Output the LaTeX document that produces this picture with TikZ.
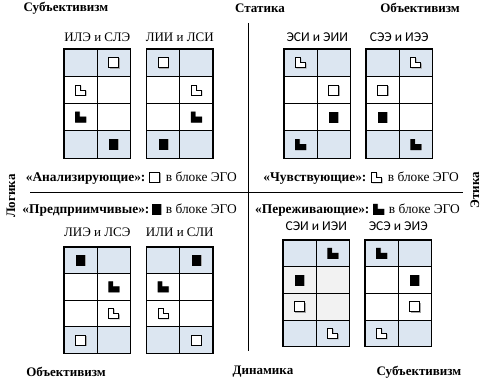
\documentclass[tikz,border=0pt]{standalone}
\usepackage{fontspec}
\setmainfont{Liberation Serif}
\newfontfamily\sansf{Carlito}
\usetikzlibrary{calc}
\definecolor{cellblue}{HTML}{DCE6F1}
\definecolor{cellgray}{HTML}{F2F2F2}
\definecolor{symshade}{HTML}{A6A6A6}
\tikzset{
  gridline/.style={draw=black, line width=1.1pt},
  divider/.style={draw=black, line width=0.9pt},
  corner/.style={font=\bfseries\fontsize{13}{15}\selectfont, inner sep=0pt},
  gtitle/.style={font=\fontsize{13}{15}\selectfont, inner sep=0pt},
  stitle/.style={font=\sansf\fontsize{13.5}{15}\selectfont, inner sep=0pt},
  legtext/.style={font=\fontsize{13.4}{15}\selectfont, inner sep=0pt, anchor=base east},
  legbold/.style={font=\bfseries\fontsize{13.4}{15}\selectfont, inner sep=0pt, anchor=base east},
  pics/wsq/.style={code={
     \fill[symshade] (-4.2,-4.2) rectangle (6,6);
     \draw[black, line width=0.8pt, fill=white] (-5,-5) rectangle (5,5);}},
  pics/bsq/.style={code={
     \fill[symshade] (-4.5,-5.5) rectangle (5.5,5.5);
     \fill[black] (-4.5,-5.5) rectangle (4.5,5.5);}},
  pics/wl/.style={code={
     \fill[symshade] (-4.2,-4.2) -- (0.8,-4.2) -- (0.8,0.8) -- (6,0.8) -- (6,6) -- (-4.2,6) -- cycle;
     \draw[black, line width=0.8pt, fill=white] (-5,-5) -- (0,-5) -- (0,0) -- (5,0) -- (5,5) -- (-5,5) -- cycle;}},
  pics/bl/.style={code={
     \fill[symshade] (-5,-5.5) -- (-0.5,-5.5) -- (-0.5,-0.5) -- (6,-0.5) -- (6,5.5) -- (-5,5.5) -- cycle;
     \fill[black] (-5.5,-5.5) -- (-1,-5.5) -- (-1,-0.5) -- (5.5,-0.5) -- (5.5,5.5) -- (-5.5,5.5) -- cycle;}},
}
% grid: x, ytop, row height, middle colour
\newcommand\mkgrid[4]{%
  \fill[cellblue] (#1,#2) rectangle ++(66.5,#3);
  \fill[#4] (#1,#2+#3) rectangle ++(66.5,2*#3);
  \fill[cellblue] (#1,#2+3*#3) rectangle ++(66.5,#3);
  \draw[gridline] (#1,#2) rectangle ++(66.5,4*#3);
  \draw[gridline] (#1+33.25,#2) -- ++(0,4*#3);
  \foreach \k in {1,2,3} {\draw[gridline] (#1,#2+\k*#3) -- ++(66.5,0);}
}
% cell symbol: x, ytop, row height, column, row, pic
\newcommand\gcell[6]{\pic at (#1+33.25*#4-16.625, #2+#3*#5-#3/2) {#6};}
\begin{document}
\begin{tikzpicture}[x=1pt,y=-1pt]
\useasboundingbox (0,0) rectangle (485,379);
% dividers
\coordinate (vtop) at (248,23);
\coordinate (vbot) at (248,351);
\coordinate (hl) at (30,192);
\coordinate (hr) at (463,192);
\draw[divider] (vtop) -- (vbot);
\draw[divider] (hl) -- (hr);
% corner labels
\node[corner] (c1) at (66,8) {Субъективизм};
\node[corner] (c2) at (260,8) {Статика};
\node[corner] (c3) at (420,8) {Объективизм};
\node[corner] (c4) at (66,372) {Объективизм};
\node[corner] (c5) at (263,372) {Динамика};
\node[corner] (c6) at (419,372) {Субъективизм};
\node[corner, rotate=90] (c7) at (11,196) {Логика};
\node[corner, rotate=90] (c8) at (475,190) {Этика};
% top-left grids
\node[gtitle] (t1) at (97.25,37) {ИЛЭ и СЛЭ};
\mkgrid{64}{49}{27.3}{white}
\gcell{64}{49}{27.3}{2}{1}{wsq}
\gcell{64}{49}{27.3}{1}{2}{wl}
\gcell{64}{49}{27.3}{1}{3}{bl}
\gcell{64}{49}{27.3}{2}{4}{bsq}
\node[gtitle] (t2) at (179.75,37) {ЛИИ и ЛСИ};
\mkgrid{146.5}{49}{27.3}{white}
\gcell{146.5}{49}{27.3}{1}{1}{wsq}
\gcell{146.5}{49}{27.3}{2}{2}{wl}
\gcell{146.5}{49}{27.3}{2}{3}{bl}
\gcell{146.5}{49}{27.3}{1}{4}{bsq}
% top-right grids
\node[stitle] (t3) at (317.25,37) {ЭСИ и ЭИИ};
\mkgrid{284}{49}{27.3}{white}
\gcell{284}{49}{27.3}{1}{1}{wl}
\gcell{284}{49}{27.3}{2}{2}{wsq}
\gcell{284}{49}{27.3}{2}{3}{bsq}
\gcell{284}{49}{27.3}{1}{4}{bl}
\node[stitle] (t4) at (399.25,37) {СЭЭ и ИЭЭ};
\mkgrid{366}{49}{27.3}{white}
\gcell{366}{49}{27.3}{2}{1}{wl}
\gcell{366}{49}{27.3}{1}{2}{wsq}
\gcell{366}{49}{27.3}{1}{3}{bsq}
\gcell{366}{49}{27.3}{2}{4}{bl}
% bottom-left grids
\node[gtitle] (t5) at (97.25,232) {ЛИЭ и ЛСЭ};
\mkgrid{64}{247}{26.6}{white}
\gcell{64}{247}{26.6}{1}{1}{bsq}
\gcell{64}{247}{26.6}{2}{2}{bl}
\gcell{64}{247}{26.6}{2}{3}{wl}
\gcell{64}{247}{26.6}{1}{4}{wsq}
\node[gtitle] (t6) at (179.75,232) {ИЛИ и СЛИ};
\mkgrid{146.5}{247}{26.6}{white}
\gcell{146.5}{247}{26.6}{2}{1}{bsq}
\gcell{146.5}{247}{26.6}{1}{2}{bl}
\gcell{146.5}{247}{26.6}{1}{3}{wl}
\gcell{146.5}{247}{26.6}{2}{4}{wsq}
% bottom-right grids
\node[stitle] (t7) at (316.25,226) {СЭИ и ИЭИ};
\mkgrid{283}{240}{26.7}{cellgray}
\gcell{283}{240}{26.7}{2}{1}{bl}
\gcell{283}{240}{26.7}{1}{2}{bsq}
\gcell{283}{240}{26.7}{1}{3}{wsq}
\gcell{283}{240}{26.7}{2}{4}{wl}
\node[stitle] (t8) at (398.25,226) {ЭСЭ и ЭИЭ};
\mkgrid{365}{240}{26.7}{white}
\gcell{365}{240}{26.7}{1}{1}{bl}
\gcell{365}{240}{26.7}{2}{2}{bsq}
\gcell{365}{240}{26.7}{2}{3}{wsq}
\gcell{365}{240}{26.7}{1}{4}{wl}
% legends
\node[legtext] (l1c) at (237,182) {в блоке ЭГО};
\pic at ($(l1c.base west)+(-11,-4.5)$) {wsq};
\node[legbold] (l1a) at ($(l1c.base west)+(-20,0)$) {«Анализирующие»:};
\node[legtext] (l2c) at (237,214) {в блоке ЭГО};
\pic at ($(l2c.base west)+(-9,-4.5)$) {bsq};
\node[legbold] (l2a) at ($(l2c.base west)+(-16,0)$) {«Предприимчивые»:};
\node[legtext] (l3c) at (459,182) {в блоке ЭГО};
\pic at ($(l3c.base west)+(-11,-4.5)$) {wl};
\node[legbold] (l3a) at ($(l3c.base west)+(-21,0)$) {«Чувствующие»:};
\node[legtext] (l4c) at (460,214) {в блоке ЭГО};
\pic at ($(l4c.base west)+(-10,-4.5)$) {bl};
\node[legbold] (l4a) at ($(l4c.base west)+(-19,0)$) {«Переживающие»:};
\end{tikzpicture}
\end{document}
